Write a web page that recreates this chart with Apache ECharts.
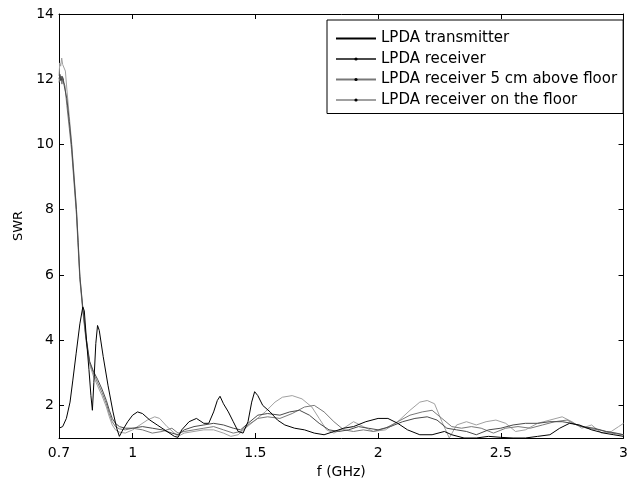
<!DOCTYPE html>
<html><head><meta charset="utf-8">
<script src="https://cdn.jsdelivr.net/npm/echarts@6/dist/echarts.min.js"></script>
<style>html,body{margin:0;padding:0;background:#fff}#c{width:631px;height:485px}</style>
</head><body><div id="c"></div>
<script>
const seriesNames = ['LPDA transmitter','LPDA receiver','LPDA receiver 5 cm above floor','LPDA receiver on the floor'];
const xTicks = [0.7,1,1.5,2,2.5,3];
const yTicks = [2,4,6,8,10,12,14];

const transmitter = [[0.700,1.30],[0.715,1.35],[0.730,1.60],[0.745,2.10],[0.756,2.75],[0.770,3.60],[0.785,4.50],[0.797,5.02],[0.803,4.90],[0.812,4.00],[0.822,3.10],[0.830,2.30],[0.836,1.85],[0.842,2.70],[0.850,3.90],[0.857,4.45],[0.864,4.30],[0.880,3.50],[0.900,2.60],[0.920,1.80],[0.935,1.30],[0.946,1.05],[0.960,1.25],[0.980,1.50],[1.000,1.70],[1.020,1.80],[1.040,1.75],[1.070,1.55],[1.100,1.40],[1.140,1.20],[1.170,1.05],[1.185,1.02],[1.200,1.25],[1.230,1.50],[1.260,1.60],[1.290,1.45],[1.310,1.45],[1.330,1.80],[1.345,2.15],[1.356,2.28],[1.370,2.05],[1.390,1.80],[1.410,1.50],[1.430,1.20],[1.450,1.15],[1.470,1.50],[1.485,2.10],[1.497,2.42],[1.510,2.30],[1.530,2.00],[1.560,1.80],[1.590,1.55],[1.620,1.40],[1.660,1.30],[1.700,1.25],[1.740,1.15],[1.780,1.10],[1.820,1.20],[1.860,1.30],[1.900,1.35],[1.950,1.50],[2.000,1.60],[2.040,1.60],[2.080,1.45],[2.120,1.25],[2.170,1.10],[2.220,1.10],[2.270,1.20],[2.300,1.10],[2.350,1.00],[2.400,1.00],[2.450,1.05],[2.500,1.02],[2.550,1.00],[2.600,1.00],[2.650,1.05],[2.700,1.10],[2.740,1.30],[2.780,1.45],[2.820,1.40],[2.870,1.25],[2.920,1.15],[2.960,1.10],[3.000,1.05]];

const receiver = [[0.700,12.00],[0.704,12.15],[0.708,11.95],[0.712,12.10],[0.716,12.00],[0.720,12.05],[0.724,11.95],[0.732,11.40],[0.742,10.70],[0.751,10.00],[0.761,9.00],[0.771,8.00],[0.778,7.00],[0.785,5.95],[0.797,5.00],[0.810,4.10],[0.825,3.35],[0.840,3.05],[0.857,2.80],[0.875,2.50],[0.893,2.15],[0.905,1.85],[0.917,1.60],[0.930,1.45],[0.946,1.35],[0.970,1.30],[1.000,1.30],[1.040,1.35],[1.080,1.30],[1.120,1.25],[1.160,1.15],[1.185,1.10],[1.210,1.25],[1.250,1.35],[1.290,1.40],[1.330,1.45],[1.370,1.40],[1.410,1.30],[1.440,1.25],[1.470,1.45],[1.510,1.70],[1.550,1.75],[1.600,1.70],[1.640,1.80],[1.680,1.85],[1.720,1.70],[1.760,1.45],[1.800,1.25],[1.840,1.20],[1.880,1.25],[1.920,1.35],[1.960,1.30],[2.000,1.25],[2.050,1.35],[2.100,1.50],[2.150,1.60],[2.200,1.65],[2.240,1.55],[2.280,1.30],[2.320,1.25],[2.360,1.20],[2.400,1.10],[2.450,1.25],[2.500,1.30],[2.550,1.40],[2.600,1.45],[2.650,1.45],[2.700,1.50],[2.750,1.50],[2.790,1.45],[2.830,1.35],[2.880,1.30],[2.930,1.20],[2.970,1.15],[3.000,1.10]];

const receiver5cm = [[0.700,11.90],[0.704,12.10],[0.708,12.00],[0.712,11.85],[0.716,12.05],[0.720,11.90],[0.724,11.80],[0.732,11.20],[0.742,10.50],[0.751,9.85],[0.761,8.85],[0.771,7.85],[0.778,6.85],[0.785,5.85],[0.797,4.90],[0.810,4.00],[0.825,3.30],[0.840,3.00],[0.857,2.70],[0.875,2.40],[0.893,2.05],[0.905,1.75],[0.917,1.50],[0.930,1.35],[0.946,1.28],[0.970,1.25],[1.000,1.30],[1.040,1.25],[1.080,1.15],[1.120,1.20],[1.160,1.30],[1.185,1.15],[1.210,1.20],[1.250,1.25],[1.290,1.30],[1.330,1.35],[1.370,1.25],[1.410,1.15],[1.440,1.20],[1.470,1.40],[1.510,1.60],[1.550,1.65],[1.600,1.60],[1.650,1.75],[1.700,1.95],[1.740,2.00],[1.780,1.80],[1.820,1.50],[1.860,1.25],[1.900,1.20],[1.940,1.25],[1.980,1.20],[2.030,1.30],[2.080,1.50],[2.130,1.70],[2.180,1.80],[2.220,1.85],[2.260,1.60],[2.300,1.35],[2.340,1.30],[2.380,1.35],[2.420,1.30],[2.470,1.15],[2.520,1.30],[2.570,1.35],[2.620,1.30],[2.670,1.40],[2.720,1.50],[2.770,1.55],[2.810,1.40],[2.850,1.30],[2.900,1.25],[2.950,1.15],[3.000,1.10]];

const receiverFloor = [[0.700,12.10],[0.703,12.50],[0.707,12.40],[0.711,12.65],[0.715,12.45],[0.720,12.50],[0.726,12.25],[0.732,11.70],[0.742,10.85],[0.751,10.10],[0.761,9.10],[0.771,8.05],[0.778,7.05],[0.785,6.00],[0.797,4.95],[0.810,4.05],[0.825,3.25],[0.840,2.90],[0.857,2.60],[0.875,2.30],[0.893,1.95],[0.905,1.65],[0.917,1.40],[0.930,1.25],[0.946,1.18],[0.970,1.15],[1.000,1.25],[1.030,1.40],[1.060,1.55],[1.090,1.65],[1.110,1.60],[1.140,1.35],[1.170,1.15],[1.185,1.05],[1.210,1.15],[1.250,1.20],[1.290,1.25],[1.330,1.25],[1.370,1.15],[1.400,1.05],[1.430,1.10],[1.460,1.30],[1.500,1.55],[1.540,1.80],[1.580,2.10],[1.610,2.25],[1.650,2.30],[1.690,2.20],[1.730,1.95],[1.760,1.60],[1.790,1.25],[1.820,1.15],[1.860,1.30],[1.900,1.50],[1.940,1.35],[1.980,1.20],[2.030,1.25],[2.080,1.50],[2.130,1.85],[2.170,2.10],[2.200,2.15],[2.230,2.05],[2.260,1.50],[2.290,1.00],[2.320,1.40],[2.360,1.50],[2.400,1.40],[2.440,1.50],[2.480,1.55],[2.520,1.45],[2.560,1.20],[2.600,1.25],[2.650,1.45],[2.700,1.55],[2.750,1.65],[2.790,1.50],[2.830,1.30],[2.870,1.40],[2.910,1.15],[2.950,1.20],[2.980,1.35],[3.000,1.45]];

const FONT = 'DejaVu Sans, Liberation Sans, sans-serif';
const chart = echarts.init(document.getElementById('c'), null, {renderer:'canvas'});
const axisCommon = {
  axisLine:{show:true,lineStyle:{color:'#000',width:1}},
  splitLine:{show:false}
};
function xAx(pos, labels){
  return Object.assign({
    type:'value', min:0.7, max:3, position:pos,
    axisTick:{show:true,inside:true,length:5,lineStyle:{color:'#000'},customValues:xTicks},
    axisLabel:{show:labels,customValues:xTicks,color:'#000',fontFamily:FONT,fontSize:14,margin:8,
      formatter:v=>String(Math.round(v*10)/10)},
    name: labels ? 'f (GHz)' : '', nameLocation:'middle', nameGap:22,
    nameTextStyle:{color:'#000',fontFamily:FONT,fontSize:14}
  }, axisCommon);
}
function yAx(pos, labels){
  return Object.assign({
    type:'value', min:1, max:14, position:pos,
    axisTick:{show:true,inside:true,length:5,lineStyle:{color:'#000'},customValues:yTicks},
    axisLabel:{show:labels,customValues:yTicks,color:'#000',fontFamily:FONT,fontSize:14,margin:5},
    name: labels ? 'SWR' : '', nameLocation:'middle', nameGap:27,
    nameTextStyle:{color:'#000',fontFamily:FONT,fontSize:13}
  }, axisCommon);
}
const colors = ['#000000','#4a4a4a','#787878','#a0a0a0'];
const datas = [transmitter, receiver, receiver5cm, receiverFloor];
chart.setOption({
  animation:false,
  backgroundColor:'#fff',
  grid:{left:59,right:1,top:14,bottom:47,containLabel:false},
  xAxis:[xAx('bottom',true), xAx('top',false)],
  yAxis:[yAx('left',true), yAx('right',false)],
  legend:{
    orient:'vertical', left:327, top:20,
    data:[{name:seriesNames[0], itemStyle:{color:'rgba(0,0,0,0)',borderWidth:0}}, seriesNames[1], seriesNames[2], seriesNames[3]],
    itemWidth:40, itemHeight:4, itemGap:5.5,
    padding:[11,6,6,8],
    borderColor:'#000', borderWidth:1, backgroundColor:'#fff',
    textStyle:{color:'#000',fontFamily:FONT,fontSize:15},
    inactiveColor:'#000'
  },
  series: datas.map((d,i)=>({
    name:seriesNames[i], type:'line', data:d,
    xAxisIndex:0, yAxisIndex:0,
    symbol: i===0 ? 'none' : 'circle', symbolSize:3, showSymbol:false,
    itemStyle:{color:'#000'},
    lineStyle:{color:colors[i], width:1},
    z: 4-i
  }))
});
</script></body></html>
